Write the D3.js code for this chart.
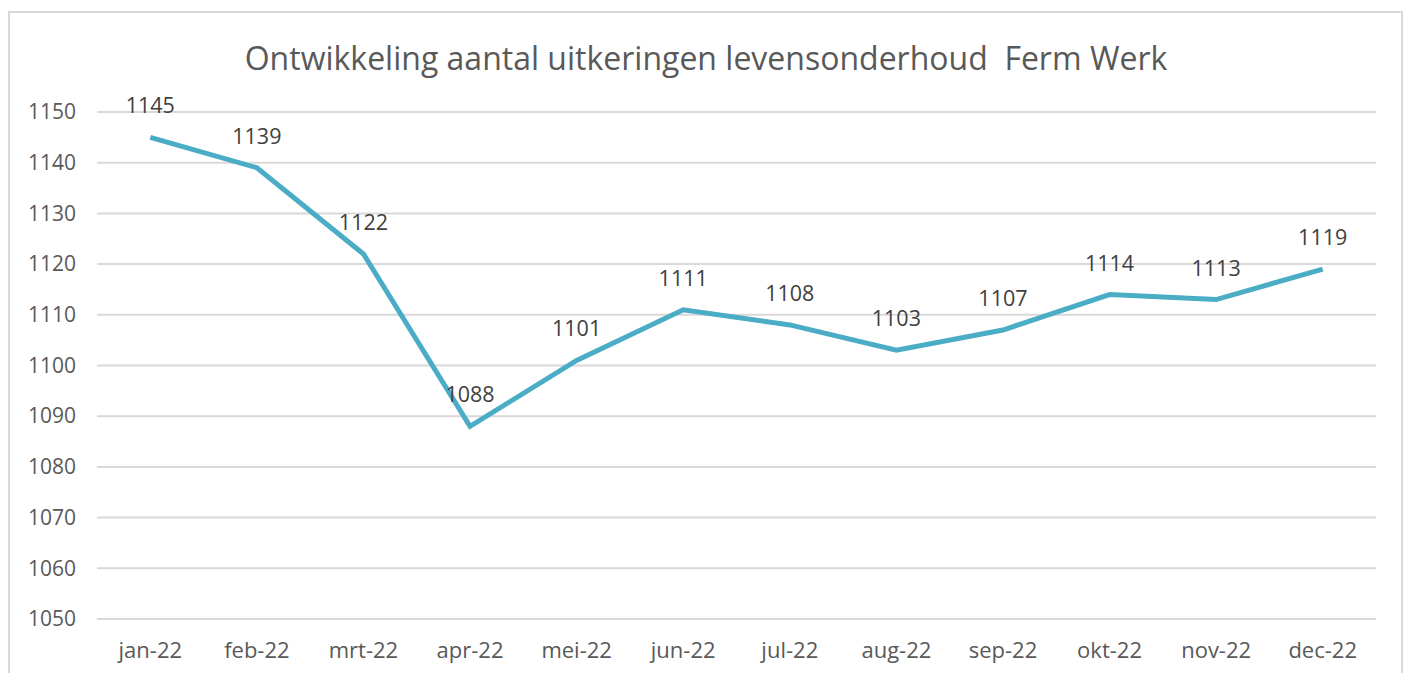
<!DOCTYPE html>
<html><head><meta charset="utf-8">
<script src="https://cdn.jsdelivr.net/npm/d3@7"></script>
<style>body{margin:0;background:#fff;} svg{display:block;}</style>
</head><body>
<script>
const categories = ["jan-22","feb-22","mrt-22","apr-22","mei-22","jun-22","jul-22","aug-22","sep-22","okt-22","nov-22","dec-22"];
const values = [1145,1139,1122,1088,1101,1111,1108,1103,1107,1114,1113,1119];
const yTicks = [1050,1060,1070,1080,1090,1100,1110,1120,1130,1140,1150];
const title = "Ontwikkeling aantal uitkeringen levensonderhoud  Ferm Werk";

const W = 1410, H = 673;
const font = "'Open Sans', Lato, sans-serif";
const svg = d3.select("body").append("svg").attr("width", W).attr("height", H);

svg.append("rect").attr("x", 9).attr("y", 12).attr("width", 1393).attr("height", 700)
  .attr("fill", "#fff").attr("stroke", "#d9d9d9").attr("stroke-width", 2);

const x = d3.scaleBand().domain(categories).range([97, 1376]);
const y = d3.scaleLinear().domain([1050, 1150]).range([619, 112]);

svg.append("text").attr("x", 706).attr("y", 70).attr("text-anchor", "middle")
  .style("white-space", "pre")
  .attr("font-family", font).attr("font-size", 32).attr("fill", "#595959").text(title);

const grid = svg.append("g");
grid.selectAll("line").data(yTicks).join("line")
  .attr("x1", 97).attr("x2", 1376).attr("y1", d => y(d)).attr("y2", d => y(d))
  .attr("stroke", "#d9d9d9").attr("stroke-width", 2);

const yAxis = svg.append("g").attr("transform", "translate(97,0)")
  .call(d3.axisLeft(y).tickValues(yTicks).tickFormat(d3.format("d")).tickSize(0).tickPadding(21));
yAxis.select(".domain").remove();
yAxis.selectAll("text").attr("font-family", font).attr("font-size", 21).attr("fill", "#595959");

const xAxis = svg.append("g").attr("transform", "translate(0,619)")
  .call(d3.axisBottom(x).tickSize(0).tickPadding(23));
xAxis.select(".domain").remove();
xAxis.selectAll("text").attr("font-family", font).attr("font-size", 22).attr("fill", "#595959");

const cx = d => x(d) + x.bandwidth() / 2;
const line = d3.line().x((d, i) => cx(categories[i])).y(d => y(d));
svg.append("path").datum(values).attr("d", line).attr("fill", "none")
  .attr("stroke", "#4bacc6").attr("stroke-width", 5).attr("stroke-linejoin", "miter");

svg.append("g").selectAll("text").data(values).join("text")
  .attr("x", (d, i) => cx(categories[i])).attr("y", d => y(d) - 24)
  .attr("text-anchor", "middle").attr("font-family", font).attr("font-size", 21.5)
  .attr("fill", "#404040").text(d => d);
</script>
</body></html>
